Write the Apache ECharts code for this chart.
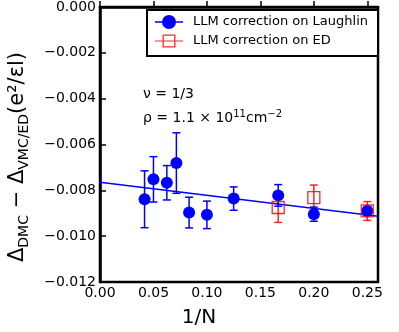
<!DOCTYPE html>
<html>
<head>
<meta charset="utf-8">
<script src="https://cdn.jsdelivr.net/npm/echarts@6/dist/echarts.min.js"></script>
<style>
  html, body { margin: 0; padding: 0; background: #fff; }
  #chart { width: 399px; height: 332px; }
</style>
</head>
<body>
<div id="chart"></div>
<script>
// 1/N values and the DMC - VMC/ED gaps
const laughlinX = [1/24, 1/20, 1/16, 1/14, 1/12, 1/10, 1/8, 1/6, 1/5, 1/4]
const laughlinY = [-0.00839, -0.00752, -0.00767, -0.00681, -0.00897, -0.00907, -0.00836, -0.00822, -0.00904, -0.00890]
const laughlinErr = [0.00124, 0.00099, 0.00075, 0.00132, 0.00067, 0.00060, 0.00051, 0.00047, 0.00031, 0.00020]

const edX = [1/6, 1/5, 1/4]
const edY = [-0.00875, -0.00832, -0.00890]
const edErr = [0.00065, 0.00055, 0.00041]

// linear fit line end points
const fitX = [0, 0.26]
const fitY = [-0.00765, -0.00913]

const xTicks = [0, 0.05, 0.10, 0.15, 0.20, 0.25]
const yTicks = [0, -0.002, -0.004, -0.006, -0.008, -0.010, -0.012]

const BLUE = '#0000ff'
const RED = 'rgba(255,0,0,0.85)'
const FONT = 'DejaVu Sans'

function errData (xs, ys, es) {
  return xs.map((x, i) => [x, ys[i] - es[i], ys[i] + es[i]])
}

function errRender (color) {
  return function (params, api) {
    const lo = api.coord([api.value(0), api.value(1)])
    const hi = api.coord([api.value(0), api.value(2)])
    const cap = 4
    const style = { stroke: color, lineWidth: 1.5 }
    return {
      type: 'group',
      children: [
        { type: 'line', shape: { x1: lo[0], y1: lo[1], x2: hi[0], y2: hi[1] }, style: style },
        { type: 'line', shape: { x1: lo[0] - cap, y1: lo[1], x2: lo[0] + cap, y2: lo[1] }, style: style },
        { type: 'line', shape: { x1: hi[0] - cap, y1: hi[1], x2: hi[0] + cap, y2: hi[1] }, style: style }
      ]
    }
  }
}

// legend handles: marker with a line through it, drawn in a 28x14 box
const blueIcon = 'path://M0 6.25h28v1.5h-28z M7 7a7 7 0 1 1 14 0a7 7 0 1 1 -14 0z'
const redIcon = 'path://M0 6.4h28v1.2h-28z M7.5 0.5h13v13h-13z M8.8 1.8v10.4h10.4v-10.4z'

const chart = echarts.init(document.getElementById('chart'))
const option = {
  animation: false,
  textStyle: { fontFamily: FONT },
  grid: {
    left: 100, right: 21, top: 6, bottom: 50,
    show: true, borderColor: '#000', borderWidth: 2.5, backgroundColor: 'transparent'
  },
  legend: {
    left: 147, top: 10,
    orient: 'vertical',
    padding: [5, 10, 8, 8],
    itemWidth: 28, itemHeight: 14, itemGap: 5,
    backgroundColor: '#fff',
    borderColor: '#000', borderWidth: 2, borderRadius: 0,
    textStyle: { fontFamily: FONT, fontSize: 13, color: '#000', lineHeight: 14, padding: [0, 0, 0, 5] },
    data: [
      { name: 'LLM correction on Laughlin', icon: blueIcon, itemStyle: { color: BLUE, borderWidth: 0 } },
      { name: 'LLM correction on ED', icon: redIcon, itemStyle: { color: RED, borderWidth: 0 } }
    ]
  },
  xAxis: {
    type: 'value', min: 0, max: 0.26, interval: 0.05,
    axisLine: { show: true, lineStyle: { color: '#000', width: 2.5 } },
    axisTick: { show: true, inside: true, length: 6, lineStyle: { color: '#000', width: 1.5 } },
    axisLabel: {
      fontFamily: FONT, fontSize: 14, color: '#000', margin: 4, showMaxLabel: false,
      formatter: v => xTicks.some(t => Math.abs(t - v) < 1e-9) ? v.toFixed(2) : ''
    },
    splitLine: { show: false }
  },
  yAxis: {
    type: 'value', min: -0.012, max: 0, interval: 0.002,
    axisLine: { show: true, lineStyle: { color: '#000', width: 2.5 } },
    axisTick: { show: true, inside: true, length: 6, lineStyle: { color: '#000', width: 1.5 } },
    axisLabel: {
      fontFamily: FONT, fontSize: 14, color: '#000', margin: 4,
      formatter: v => {
        if (!yTicks.some(t => Math.abs(t - v) < 1e-9)) return ''
        return Math.abs(v) < 1e-9 ? '0.000' : '\u2212' + Math.abs(v).toFixed(3)
      }
    },
    splitLine: { show: false }
  },
  graphic: [
    {
      type: 'text', x: 143, y: 94,
      style: { text: 'ν = 1/3', font: '14px "DejaVu Sans"', fill: '#000', textVerticalAlign: 'middle' }
    },
    {
      type: 'text', x: 143, y: 118,
      style: {
        text: 'ρ = 1.1 × 10{sup|11}cm{sup|−2}',
        fontFamily: FONT, fontSize: 14, fill: '#000', textVerticalAlign: 'middle', lineHeight: 18,
        rich: { sup: { fontFamily: FONT, fontSize: 10, lineHeight: 10, verticalAlign: 'top' } }
      }
    },
    {
      type: 'text', x: 199, y: 318,
      style: { text: '1/N', font: '20px "DejaVu Sans"', fill: '#000', textAlign: 'center', textVerticalAlign: 'middle' }
    },
    {
      type: 'text', x: 18, y: 157, rotation: Math.PI / 2,
      style: {
        text: 'Δ{s|DMC} − Δ{s|VMC/ED}(e²/εl)',
        fontFamily: FONT, fontSize: 21, fill: '#000', lineHeight: 26,
        textAlign: 'center', textVerticalAlign: 'middle',
        rich: { s: { fontFamily: FONT, fontSize: 14, lineHeight: 22, verticalAlign: 'bottom' } }
      }
    }
  ],
  series: [
    {
      name: 'ED err', type: 'custom', z: 2,
      renderItem: errRender(RED),
      data: errData(edX, edY, edErr)
    },
    {
      name: 'Laughlin err', type: 'custom', z: 3,
      renderItem: errRender(BLUE),
      data: errData(laughlinX, laughlinY, laughlinErr)
    },
    {
      name: 'LLM correction on Laughlin', type: 'scatter', z: 4,
      symbol: 'circle', symbolSize: 12,
      itemStyle: { color: BLUE, opacity: 1 },
      data: laughlinX.map((x, i) => [x, laughlinY[i]])
    },
    {
      name: 'fit', type: 'line', z: 5,
      showSymbol: false, symbol: 'none',
      lineStyle: { color: BLUE, width: 1.5 },
      data: fitX.map((x, i) => [x, fitY[i]])
    },
    {
      name: 'LLM correction on ED', type: 'scatter', z: 6,
      symbol: 'rect', symbolSize: 12,
      itemStyle: { color: 'rgba(0,0,0,0)', borderColor: RED, borderWidth: 1.3, opacity: 1 },
      data: edX.map((x, i) => [x, edY[i]])
    }
  ]
}
chart.setOption(option)
</script>
</body>
</html>
